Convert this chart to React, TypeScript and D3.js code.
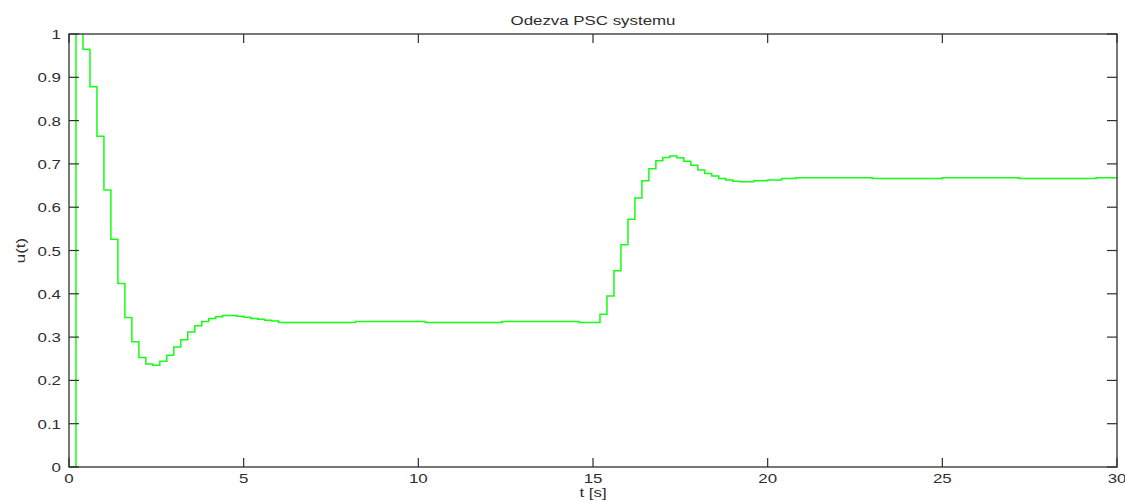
import React, { useEffect, useRef } from "react";
import * as d3 from "d3";

// step changes of the sampled control signal u(t), sample period 0.2 s
const STEP_T = [
  0, 0.2, 0.4, 0.6, 0.8, 1.0, 1.2, 1.4, 1.6, 1.8, 2.0, 2.2, 2.4, 2.6, 2.8, 3.0,
  3.2, 3.4, 3.6, 3.8, 4.0, 4.2, 4.4, 4.8, 5.0, 5.2, 5.4, 5.6, 5.8, 6.0, 8.2,
  10.2, 12.4, 14.6, 15.2, 15.4, 15.6, 15.8, 16.0, 16.2, 16.4, 16.6, 16.8, 17.0,
  17.2, 17.4, 17.6, 17.8, 18.0, 18.2, 18.4, 18.6, 18.8, 19.0, 19.2, 19.6, 20.0,
  20.4, 20.8, 23.0, 25.0, 27.2, 29.4, 30,
];
const STEP_U = [
  0, 1.1, 0.965, 0.878, 0.764, 0.64, 0.526, 0.424, 0.345, 0.289, 0.253, 0.238,
  0.235, 0.244, 0.258, 0.277, 0.294, 0.312, 0.326, 0.336, 0.343, 0.347, 0.35,
  0.348, 0.346, 0.343, 0.341, 0.339, 0.337, 0.334, 0.336, 0.334, 0.336, 0.334,
  0.353, 0.395, 0.453, 0.513, 0.572, 0.621, 0.661, 0.689, 0.707, 0.715, 0.718,
  0.714, 0.706, 0.697, 0.686, 0.678, 0.672, 0.666, 0.663, 0.66, 0.659, 0.661,
  0.663, 0.666, 0.668, 0.666, 0.668, 0.666, 0.668, 0.668,
];

const X_TICKS = [0, 5, 10, 15, 20, 25, 30];
const Y_TICKS = [0, 0.1, 0.2, 0.3, 0.4, 0.5, 0.6, 0.7, 0.8, 0.9, 1];

const TITLE = "Odezva PSC systemu";
const X_LABEL = "t [s]";
const Y_LABEL = "u(t)";

const W = 1125, H = 502;
const M = { left: 69, right: 8, top: 34, bottom: 35 };
const FONT = "'Liberation Sans', Arial, sans-serif";
const INK = "#2e2e2e";
const STRETCH = 1.25; // the old figure text is wide

export default function App() {
  const svgRef = useRef<SVGSVGElement>(null);

  useEffect(() => {
    if (!svgRef.current) return;
    const svg = d3.select(svgRef.current);
    svg.selectAll("*").remove();

    const x = d3.scaleLinear().domain([0, 30]).range([M.left, W - M.right]);
    const y = d3.scaleLinear().domain([0, 1]).range([H - M.bottom, M.top]);
    const [x0, x1] = x.range();
    const [y0, y1] = y.range();

    svg.append("defs").append("clipPath").attr("id", "plot-clip")
      .append("rect")
      .attr("x", x0).attr("y", y1)
      .attr("width", x1 - x0).attr("height", y0 - y1);

    // --- text helper (horizontally stretched like the original) ---
    const label = (g, tx, ty, str, anchor, rotate = 0) =>
      g.append("text")
        .attr("transform", `translate(${tx},${ty}) rotate(${rotate}) scale(${STRETCH},1)`)
        .attr("text-anchor", anchor)
        .attr("font-family", FONT)
        .attr("font-size", 13.5)
        .attr("fill", INK)
        .text(str);

    // --- Signal ---
    const pts = STEP_T.map((t, i) => [t, STEP_U[i]] as [number, number]);
    const line = d3.line<[number, number]>()
      .x(d => x(d[0]))
      .y(d => y(d[1]))
      .curve(d3.curveStepAfter);
    svg.append("path")
      .datum(pts)
      .attr("clip-path", "url(#plot-clip)")
      .attr("d", line)
      .attr("fill", "none")
      .attr("stroke", "#14ff14")
      .attr("stroke-width", 1.5);

    // --- Axes box + inward ticks ---
    const axes = svg.append("g");
    axes.append("rect")
      .attr("x", x0).attr("y", y1)
      .attr("width", x1 - x0).attr("height", y0 - y1)
      .attr("fill", "none").attr("stroke", INK).attr("stroke-width", 1.3);

    const TX = 9, TY = 10;
    X_TICKS.forEach(t => {
      axes.append("line").attr("x1", x(t)).attr("x2", x(t)).attr("y1", y0).attr("y2", y0 - TX)
        .attr("stroke", INK).attr("stroke-width", 1.2);
      axes.append("line").attr("x1", x(t)).attr("x2", x(t)).attr("y1", y1).attr("y2", y1 + TX)
        .attr("stroke", INK).attr("stroke-width", 1.2);
      label(axes, x(t), y0 + 16, String(t), "middle");
    });
    Y_TICKS.forEach(v => {
      axes.append("line").attr("x1", x0).attr("x2", x0 + TY).attr("y1", y(v)).attr("y2", y(v))
        .attr("stroke", INK).attr("stroke-width", 1.2);
      axes.append("line").attr("x1", x1).attr("x2", x1 - TY).attr("y1", y(v)).attr("y2", y(v))
        .attr("stroke", INK).attr("stroke-width", 1.2);
      label(axes, x0 - 8, y(v) + 5, String(v), "end");
    });

    // --- Title and axis labels ---
    label(svg, (x0 + x1) / 2, 25, TITLE, "middle");
    label(svg, (x0 + x1) / 2, 497, X_LABEL, "middle");
    label(svg, 25, (y0 + y1) / 2, Y_LABEL, "middle", -90);
  }, []);

  return (
    <svg
      ref={svgRef}
      width={W}
      height={H}
      style={{ position: "absolute", left: 0, top: 0, background: "#fff" }}
    />
  );
}
